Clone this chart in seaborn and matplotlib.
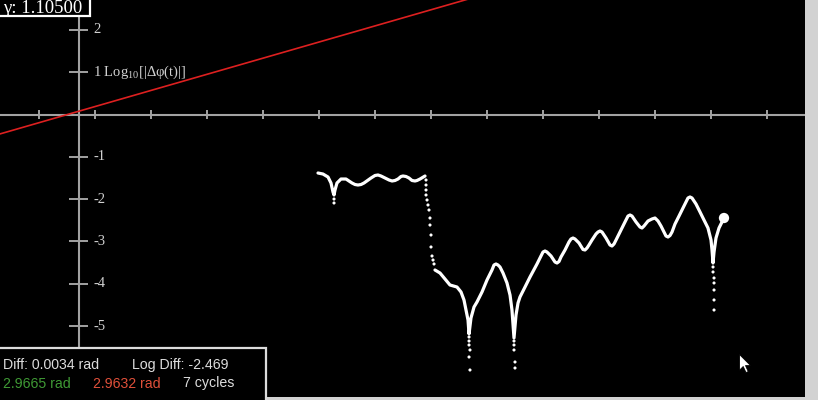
import numpy as np
import pandas as pd
import matplotlib
matplotlib.use("Agg")
import matplotlib.pyplot as plt
from matplotlib.patches import Rectangle
from matplotlib.path import Path
import seaborn as sns

# ---------------- data ----------------
# red reference line (log10 envelope)
red_x = [-1.0, 8.0]
red_y = [-0.575, 2.857]

# white curve, continuous part 1
seg1_x = [4.982, 5.071, 5.161, 5.214, 5.25, 5.268, 5.286, 5.321, 5.393, 5.482, 5.589, 5.643, 5.696,
          5.75, 5.804, 5.929, 6.0, 6.054, 6.107, 6.179, 6.25, 6.304, 6.357, 6.411, 6.464, 6.5,
          6.554, 6.607, 6.661, 6.714, 6.75, 6.804, 6.893]
seg1_y = [-1.383, -1.407, -1.478, -1.619, -1.832, -1.903, -1.785, -1.619, -1.525, -1.525, -1.619, -1.655, -1.667,
          -1.655, -1.619, -1.501, -1.442, -1.430, -1.454, -1.501, -1.548, -1.572, -1.560, -1.525, -1.466, -1.454,
          -1.466, -1.501, -1.560, -1.572, -1.560, -1.525, -1.454]

# white curve, continuous part 2
seg2_x = [7.071, 7.161, 7.25, 7.339, 7.464, 7.536, 7.589, 7.625, 7.661, 7.679, 7.714, 7.768, 7.821,
          7.911, 8.0, 8.089, 8.125, 8.161, 8.196, 8.232, 8.286, 8.357, 8.411, 8.446, 8.482, 8.518,
          8.554, 8.589, 8.679, 8.768, 8.893, 8.964, 9.0, 9.036, 9.071, 9.143, 9.214, 9.25, 9.286,
          9.321, 9.393, 9.464, 9.5, 9.536, 9.571, 9.643, 9.714, 9.75, 9.786, 9.821, 9.875, 9.946,
          9.982, 10.018, 10.054, 10.125, 10.196, 10.232, 10.268, 10.304, 10.375, 10.464, 10.518,
          10.554, 10.589, 10.661, 10.732, 10.768, 10.804, 10.875, 10.946, 11.0, 11.054, 11.107,
          11.196, 11.232, 11.268, 11.304, 11.357, 11.429, 11.5, 11.589, 11.625, 11.661, 11.732,
          11.804, 11.857, 11.946, 12.0, 12.018, 12.036, 12.054, 12.089, 12.143, 12.232]
seg2_y = [-3.676, -3.747, -3.889, -4.031, -4.078, -4.196, -4.385, -4.622, -4.858, -5.189, -4.811, -4.551, -4.433,
          -4.196, -3.913, -3.676, -3.558, -3.534, -3.558, -3.605, -3.747, -3.983, -4.267, -4.622, -5.284, -4.740,
          -4.456, -4.314, -4.078, -3.842, -3.534, -3.345, -3.251, -3.227, -3.251, -3.345, -3.487, -3.511, -3.475,
          -3.369, -3.203, -3.014, -2.943, -2.920, -2.943, -3.038, -3.191, -3.203, -3.156, -3.085, -2.967, -2.825,
          -2.778, -2.754, -2.778, -2.920, -3.085, -3.109, -3.061, -2.967, -2.778, -2.541, -2.400,
          -2.376, -2.400, -2.541, -2.660, -2.683, -2.636, -2.518, -2.470, -2.447, -2.518, -2.636,
          -2.872, -2.896, -2.861, -2.778, -2.589, -2.400, -2.210, -1.974, -1.950, -1.974, -2.116,
          -2.305, -2.447, -2.683, -2.967, -3.203, -3.511, -3.251, -2.920, -2.683, -2.447]

# sparse dots (near-zero differences)
dot_x = [5.268, 5.268,
         6.911, 6.911, 6.911, 6.911, 6.929, 6.946, 6.964, 6.982, 6.982, 7.0, 7.0, 7.018, 7.036, 7.054,
         7.679, 7.679, 7.679, 7.696, 7.679, 7.696,
         8.482, 8.482, 8.482, 8.5, 8.5,
         12.036, 12.036, 12.054, 12.054, 12.054, 12.054, 12.054]
dot_y = [-1.998, -2.092,
         -1.548, -1.667, -1.785, -1.903, -2.021, -2.139, -2.258, -2.447, -2.613, -2.849, -3.132, -3.345, -3.440, -3.534,
         -5.260, -5.355, -5.449, -5.567, -5.733, -6.040,
         -5.355, -5.449, -5.567, -5.851, -5.993,
         -3.605, -3.723, -3.865, -3.983, -4.149, -4.385, -4.622]

# current point
end_x = [12.232]
end_y = [-2.447]

# mouse cursor position
cursor_x = [12.5]
cursor_y = [-5.662]

x_ticks = list(range(0, 14))
y_ticks = [2, 1, -1, -2, -3, -4, -5]
y_tick_labels = ["2", "1 Log$_{10}$[|Δφ(t)|]", "-1", "-2", "-3", "-4", "-5"]

gamma_text = "γ: 1.10500"
diff_text = "Diff: 0.0034 rad"
logdiff_text = "Log Diff: -2.469"
green_text = "2.9665 rad"
red_text = "2.9632 rad"
cycles_text = "7 cycles"

# ---------------- style ----------------
sns.set_theme(style="dark", rc={"axes.facecolor": "black"})
plt.rcParams["mathtext.fontset"] = "custom"
plt.rcParams["mathtext.rm"] = "Liberation Serif"
plt.rcParams["mathtext.it"] = "Liberation Serif"

fig = plt.figure(figsize=(8.18, 4.0), dpi=100, facecolor="#d2d2d2")
ax = fig.add_axes([0, 3 / 400, 805 / 818, 397 / 400])
ax.set_facecolor("black")
for s in ax.spines.values():
    s.set_visible(False)
ax.set_xticks([])
ax.set_yticks([])
ax.grid(False)

x_axis_pos = 0.71
axis_col = "#a2a2a2"

# axes
ax.axhline(0, color=axis_col, lw=1.5, zorder=1)
ax.axvline(x_axis_pos, color=axis_col, lw=1.5, zorder=1)
ax.vlines(x_ticks, -0.1, 0.1, color=axis_col, lw=1.4, zorder=1)
ax.hlines(y_ticks, x_axis_pos - 0.17, x_axis_pos + 0.17, color=axis_col, lw=1.4, zorder=1)
for v, lab in zip(y_ticks, y_tick_labels):
    ax.text(0.965, v, lab, color="#d0d0d0", fontsize=10.5, family="Liberation Serif",
            va="center", ha="left", zorder=2)

# red line
sns.lineplot(x=red_x, y=red_y, color="#dd2020", lw=1.2, ax=ax, zorder=3)

# white curve
line_kw = dict(color="white", lw=2.3, estimator=None, sort=False, ax=ax, zorder=4)
sns.lineplot(x=seg1_x, y=seg1_y, **line_kw)
sns.lineplot(x=seg2_x, y=seg2_y, **line_kw)
for l in ax.lines:
    l.set_solid_joinstyle("round")
    l.set_solid_capstyle("round")
sns.scatterplot(x=dot_x, y=dot_y, s=5, color="white", edgecolor="none", ax=ax, zorder=4)
sns.scatterplot(x=end_x, y=end_y, s=55, color="white", edgecolor="none", ax=ax, zorder=5)

# cursor
cursor_path = Path([(0, 0), (0, -17), (4, -13), (7, -19.5), (9.5, -18.5), (6.5, -12), (12, -12), (0, 0)],
                   [Path.MOVETO] + [Path.LINETO] * 6 + [Path.CLOSEPOLY])
sns.scatterplot(x=cursor_x, y=cursor_y, marker=cursor_path, s=26 ** 2, color="white",
                edgecolor="black", linewidth=0.6, ax=ax, zorder=6)

ax.set_xlim(-39 / 56, (805 - 39) / 56)
ax.set_ylim(-282.5 / 42.3, 114.5 / 42.3)
if ax.get_legend():
    ax.get_legend().remove()

# gamma box (top-left)
W, H = 805.0, 397.0
ax.add_patch(Rectangle((-0.01, (H - 16) / H), 90 / W + 0.01, 0.1, transform=ax.transAxes,
                       facecolor="black", edgecolor="white", lw=1.6, zorder=8, clip_on=False))
ax.text(3 / W, (H - 8.5) / H, gamma_text, transform=ax.transAxes, color="white",
        family="Liberation Serif", fontsize=13.5, va="center", ha="left", zorder=9)

# info box (bottom-left)
ax.add_patch(Rectangle((-0.01, -0.05), (266 / W) + 0.01, (H - 348) / H + 0.05, transform=ax.transAxes,
                       facecolor="black", edgecolor="#dcdcdc", lw=1.6, zorder=8, clip_on=False))
tk = dict(transform=ax.transAxes, family="Liberation Sans", fontsize=10.2, va="center", ha="left", zorder=9)
ax.text(3 / W, (H - 365) / H, diff_text, color="#dddddd", **tk)
ax.text(132 / W, (H - 365) / H, logdiff_text, color="#dddddd", **tk)
ax.text(3 / W, (H - 383.5) / H, green_text, color="#3f9a35", **tk)
ax.text(93 / W, (H - 383.5) / H, red_text, color="#e0503a", **tk)
ax.text(183 / W, (H - 383.5) / H, cycles_text, color="#dddddd", **tk)

fig.savefig("out.png", dpi=100, facecolor=fig.get_facecolor())
